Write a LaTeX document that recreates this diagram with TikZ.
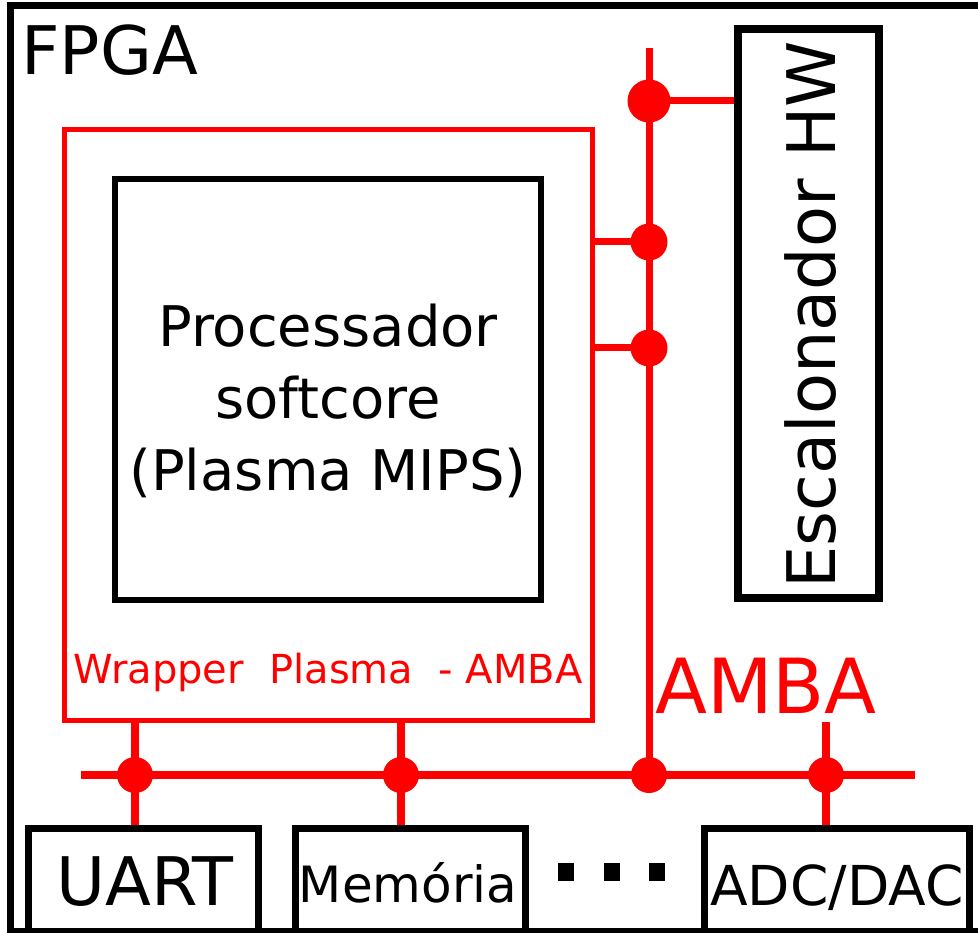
\documentclass[tikz,border=0pt]{standalone}
\usepackage{fontspec}
\setmainfont{DejaVu Sans}
\begin{document}
\begin{tikzpicture}[x=1pt,y=-1pt,
  blk/.style={draw=black, line width=#1, inner sep=0pt, rectangle},
  blk/.default=7pt,
  wrap/.style={draw=red, line width=5pt, inner sep=0pt, rectangle},
  bus/.style={red, line width=7.5pt},
  tap/.style={red, line width=7pt},
  droptap/.style={red, line width=8.5pt},
  joint/.style={circle, fill=red, inner sep=0pt, minimum size=#1},
  joint/.default=36pt,
  sq/.style={fill=black, inner sep=0pt, minimum width=16pt, minimum height=18pt},
  fs/.style={font=\fontsize{#1}{#1}\selectfont},
]
\useasboundingbox (0,0) rectangle (978,933);
\clip (0,0) rectangle (978,933);
% outer FPGA frame
\node[blk=7pt, minimum width=990pt, minimum height=925pt] (fpga) at (505,468.5) {};
\node[fs=67, inner sep=0pt, anchor=base west] (fpgalbl) at (21,75) {FPGA};
% escalonador
\node[blk=8pt, minimum width=141.5pt, minimum height=568.5pt] (esc) at (808.25,313.75) {};
\node[fs=67, inner sep=0pt, anchor=base, rotate=90] (esclbl) at (835,315) {Escalonador HW};
% wrapper and processor
\node[wrap, minimum width=528pt, minimum height=590.5pt] (wrapper) at (328.5,424.75) {};
\node[blk=6.5pt, minimum width=426pt, minimum height=421pt] (proc) at (328,389.5) {};
\node[inner sep=0pt, align=center, font=\fontsize{56}{72}\selectfont] (proclbl) at (328,401) {Processador\\softcore\\(Plasma MIPS)};
\node[fs=40, inner sep=0pt, anchor=base, text=red] (wraplbl) at (328,683) {Wrapper\ \ Plasma\ \ - AMBA};
\node[fs=76, inner sep=0pt, anchor=base, text=red] (ambalbl) at (766,713) {AMBA};
% peripherals
\node[blk, minimum width=230pt, minimum height=140pt] (uart) at (143.5,898) {};
\node[blk, minimum width=230pt, minimum height=140pt] (mem) at (410,898) {};
\node[blk, minimum width=265pt, minimum height=140pt] (adc) at (836.5,898) {};
\node[fs=67, inner sep=0pt, anchor=base] (uartlbl) at (145,905) {UART};
\node[fs=50, inner sep=0pt, anchor=base] (memlbl) at (408,902) {Memória};
\node[fs=55, inner sep=0pt, anchor=base] (adclbl) at (837,905) {ADC/DAC};
\node[sq] (d1) at (566,872) {};
\node[sq] (d2) at (612,872) {};
\node[sq] (d3) at (657,872) {};
% bus coordinates
\coordinate (vtop) at (649,48);
\coordinate (hl) at (81,775);
\coordinate (hr) at (915,775);
\coordinate (adctop) at (826,722);
% joints
\node[joint=43pt] (j1) at (649,101) {};
\node[joint=37pt] (j2) at (649,242) {};
\node[joint=37pt] (j3) at (649,348) {};
\node[joint] (b1) at (135,775) {};
\node[joint] (b2) at (401,775) {};
\node[joint] (b3) at (649,775) {};
\node[joint] (b4) at (826,775) {};
% connectors
\draw[tap] (vtop) -- (b3.center);
\draw[bus] (hl) -- (hr);
\draw[tap] (j1.center) -- (esc.west |- j1.center);
\draw[tap] (wrapper.east |- j2.center) -- (j2.center);
\draw[tap] (wrapper.east |- j3.center) -- (j3.center);
\draw[droptap] (wrapper.south -| b1.center) -- (uart.north -| b1.center);
\draw[droptap] (wrapper.south -| b2.center) -- (mem.north -| b2.center);
\draw[droptap] (adctop) -- (adc.north -| adctop);
\end{tikzpicture}
\end{document}
